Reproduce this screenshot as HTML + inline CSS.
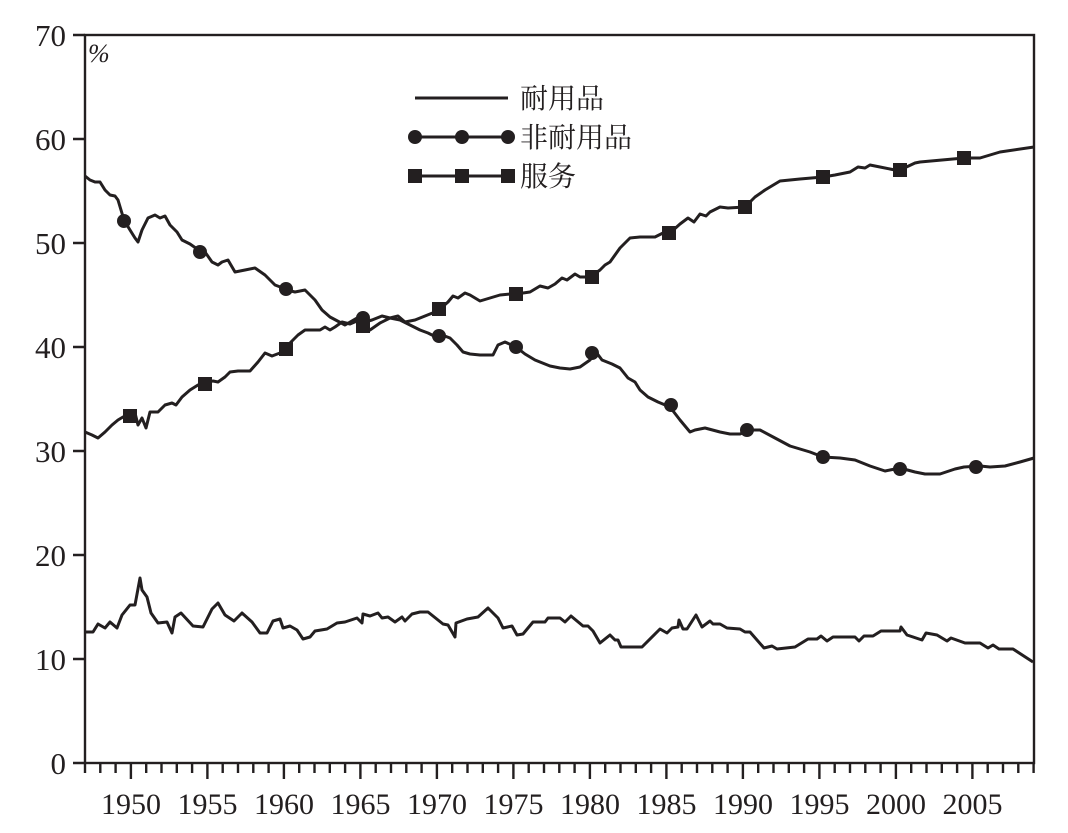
<!DOCTYPE html>
<html><head><meta charset="utf-8"><style>body{margin:0;background:#fff}svg{display:block}</style></head>
<body>
<svg width="1068" height="833" viewBox="0 0 1068 833" xmlns="http://www.w3.org/2000/svg">
<g stroke="#231f20" stroke-width="2.4" fill="none">
<rect x="85" y="35" width="949" height="728"/>
<path d="M73 35H85M73 139H85M73 243H85M73 347H85M73 451H85M73 555H85M73 659H85M73 763H85"/>
<path id="ticks" d=""/>
</g>
<g font-family="Liberation Serif, serif" font-size="31" fill="#231f20" text-anchor="end">
<text x="66" y="46">70</text><text x="66" y="150">60</text><text x="66" y="254">50</text><text x="66" y="358">40</text><text x="66" y="462">30</text><text x="66" y="566">20</text><text x="66" y="670">10</text><text x="66" y="774">0</text>
</g>
<text x="88" y="62" font-family="Liberation Serif, serif" font-style="italic" font-size="26" fill="#231f20">%</text>
<g font-family="Liberation Serif, serif" font-size="30" fill="#231f20" text-anchor="middle">
<text x="131" y="814">1950</text><text x="207.5" y="814">1955</text><text x="284" y="814">1960</text><text x="360.5" y="814">1965</text><text x="437" y="814">1970</text><text x="513.5" y="814">1975</text><text x="590" y="814">1980</text><text x="666.5" y="814">1985</text><text x="743" y="814">1990</text><text x="819.5" y="814">1995</text><text x="896" y="814">2000</text><text x="972.5" y="814">2005</text>
</g>
<g stroke="#231f20" stroke-width="3" fill="none" stroke-linejoin="round">
<polyline points="85,632 93,632 98,624 105,628 110,622 117,628 122,615 130,605 135,605 140,578 142,590 147,597 151,613 158,623 167,622 172,633 175,617 181,613 193,626 203,627 212,609 218,603 225,615 234,621 242,613 252,622 260,633 267,633 273,621 280,619 283,628 290,626 297,630 303,639 310,637 315,631 327,629 337,623 345,622 357,618 362,623 363,614 370,616 378,613 382,618 388,617 395,622 402,617 405,621 412,614 420,612 428,612 443,624 448,625 455,637 456,623 467,619 478,617 488,608 498,618 503,628 512,626 517,635 523,634 533,622 545,622 548,618 560,618 565,622 571,616 583,626 588,626 593,631 600,643 610,635 615,640 618,640 621,647 642,647 660,629 667,633 672,628 678,627 679,620 683,629 687,629 696,615 702,627 710,621 713,624 720,624 727,628 740,629 745,632 750,632 764,648 772,646 777,649 795,647 808,639 817,639 821,636 827,641 833,637 855,637 859,641 864,636 873,636 881,631 900,631 901,627 907,635 922,640 926,633 937,635 947,641 951,638 965,643 980,643 988,648 993,645 999,649 1013,649 1033,662"/>
<polyline points="85,176 90,180 95,182 100,182 105,190 110,195 115,196 118,200 124,220 130,230 135,238 138,242 142,230 148,218 155,215 160,218 165,216 170,225 177,232 182,240 190,244 200,251 205,252 212,262 218,265 222,262 228,260 235,272 245,270 255,268 265,275 275,285 283,288 287,290 295,292 305,290 315,300 322,310 330,317 345,325 357,318 365,322 372,320 382,316 390,318 400,320 410,325 420,330 428,333 436,337 442,335 450,338 457,345 463,352 470,354 480,355 493,355 498,345 505,342 516,347 525,354 535,360 550,366 560,368 570,369 580,367 590,360 596,352 602,360 612,364 620,368 628,378 635,382 640,390 648,397 658,402 670,407 680,420 690,432 695,430 705,428 720,432 730,434 740,434 750,430 760,430 775,438 790,446 810,452 823,457 840,458 855,460 870,466 885,471 900,468 915,472 925,474 940,474 955,469 964,467 980,466 990,467 1005,466 1020,462 1034,458"/>
<polyline points="85,432 92,435 98,438 105,432 112,425 118,420 123,417 130,416 135,413 138,425 142,418 146,428 150,412 158,412 165,405 172,403 176,405 182,397 190,390 198,385 206,382 213,381 218,382 225,377 230,372 238,371 245,371 250,371 258,362 265,353 272,356 280,353 286,349 290,343 298,335 305,330 315,330 320,330 325,327 330,330 335,327 342,322 350,324 357,321 363,325 370,330 380,323 390,318 398,316 405,322 415,320 425,316 435,312 440,309 448,302 453,296 458,298 465,293 470,295 480,301 490,298 500,295 510,294 516,294 530,292 540,286 548,288 555,284 562,278 567,280 575,274 580,277 590,277 600,270 605,265 610,262 620,248 630,238 640,237 655,237 663,233 670,233 680,224 688,218 694,222 700,214 706,216 710,212 720,207 728,208 745,207 755,197 765,190 780,181 800,179 823,177 835,175 850,172 858,167 865,168 870,165 880,167 895,170 900,170 915,163 920,162 964,158 980,158 990,155 1000,152 1034,147"/>
<path d="M415 98H508M415 137H508M415 176H508"/>
</g>
<g fill="#231f20">
<circle cx="124" cy="221" r="7"/><circle cx="200" cy="252" r="7"/><circle cx="286" cy="289" r="7"/><circle cx="363" cy="318" r="7"/><circle cx="439" cy="336" r="7"/><circle cx="516" cy="347" r="7"/><circle cx="592" cy="353" r="7"/><circle cx="671" cy="405" r="7"/><circle cx="747" cy="430" r="7"/><circle cx="823" cy="457" r="7"/><circle cx="900" cy="469" r="7"/><circle cx="976" cy="467" r="7"/>
<circle cx="415" cy="137" r="7"/><circle cx="462" cy="137" r="7"/><circle cx="508" cy="137" r="7"/>
<rect x="123" y="409" width="14" height="14"/><rect x="198" y="377" width="14" height="14"/><rect x="279" y="342" width="14" height="14"/><rect x="356" y="319" width="14" height="14"/><rect x="432" y="302" width="14" height="14"/><rect x="509" y="287" width="14" height="14"/><rect x="585" y="270" width="14" height="14"/><rect x="662" y="226" width="14" height="14"/><rect x="738" y="200" width="14" height="14"/><rect x="816" y="170" width="14" height="14"/><rect x="893" y="163" width="14" height="14"/><rect x="957" y="151" width="14" height="14"/>
<rect x="408" y="169" width="14" height="14"/><rect x="455" y="169" width="14" height="14"/><rect x="501" y="169" width="14" height="14"/>
</g>
<g font-family="Liberation Serif, 'Noto Serif CJK SC', serif" font-size="28" fill="#231f20">
<text x="520" y="108">耐用品</text><text x="520" y="147">非耐用品</text><text x="520" y="186">服务</text>
</g>
<script>
var d="";for(var i=0;i<=62;i++){var x=85+i*15.3;var yr=1947+i;d+="M"+x.toFixed(1)+" 763V"+(yr%5==0?779:773);}
document.getElementById("ticks").setAttribute("d",d);
</script>
</svg>
</body></html>
